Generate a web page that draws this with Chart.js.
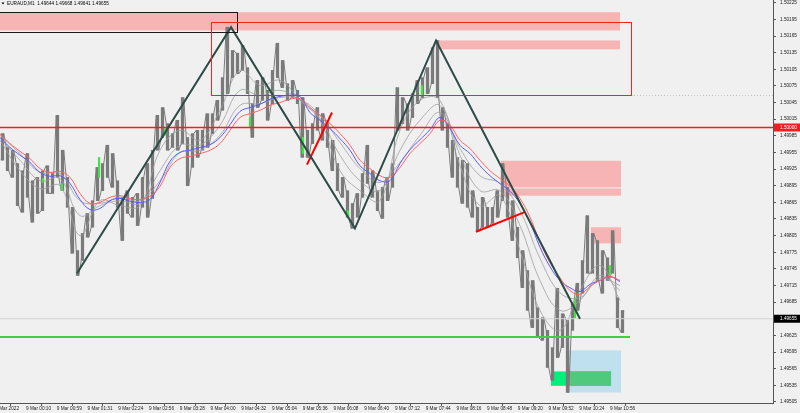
<!DOCTYPE html>
<html><head><meta charset="utf-8">
<script src="https://cdn.jsdelivr.net/npm/chart.js@4.4.0/dist/chart.umd.min.js"></script>
<style>html,body{margin:0;padding:0;background:#f0f0f0;overflow:hidden}#wrap{width:800px;height:413px;position:relative}</style>
</head><body><div id="wrap"><canvas id="c" width="800" height="413"></canvas></div>
<script>
// ---------- DATA ----------
const symbolTitle = 'EURAUD,M1  1.49644 1.49668 1.49641 1.49655';
const timeLabels = ['9 Mar 2022','9 Mar 00:10','9 Mar 00:59','9 Mar 01:31','9 Mar 02:24','9 Mar 02:56','9 Mar 03:28','9 Mar 04:00','9 Mar 04:32','9 Mar 05:04','9 Mar 05:36','9 Mar 06:08','9 Mar 06:40','9 Mar 07:12','9 Mar 07:44','9 Mar 08:16','9 Mar 08:48','9 Mar 09:20','9 Mar 09:52','9 Mar 10:24','9 Mar 10:56'];
const timeLabelBars = [0,32,64,96,128,160,192,224,256,288,320,352,384,416,448,480,512,544,576,608,640];
const priceTicks = [1.49505,1.49535,1.49565,1.49595,1.49625,1.49655,1.49685,1.49715,1.49745,1.49775,1.49805,1.49835,1.49865,1.49895,1.49925,1.49955,1.49985,1.50015,1.50045,1.50075,1.50105,1.50135,1.50165,1.50195,1.50225];

// price range per 5-bar slot (high / low)
const candleHigh = [1.49989,1.49964,1.49959,1.49935,1.49922,1.49953,1.49904,1.49910,1.49922,1.49931,
 1.49917,1.50022,1.49959,1.49910,1.49856,1.49778,1.49809,1.49845,1.49868,1.49928,
 1.49935,1.49968,1.49953,1.49904,1.49874,1.49886,1.49874,1.49881,1.49910,1.49935,
 1.49959,1.50022,1.50036,1.50007,1.49989,1.50013,1.50054,1.49982,1.49989,1.49995,
 1.49995,1.50025,1.50025,1.50049,1.50090,1.50181,1.50139,1.50134,1.50148,1.50108,
 1.50043,1.50085,1.50090,1.50067,1.50103,1.50152,1.50121,1.50079,1.50085,1.50067,
 1.50054,1.49995,1.50007,1.50036,1.50025,1.50007,1.49977,1.49935,1.49910,1.49886,
 1.49863,1.49881,1.49917,1.49968,1.49922,1.49886,1.49892,1.49910,1.49935,1.50072,
 1.50054,1.50043,1.50061,1.50085,1.50090,1.50108,1.50144,1.50157,1.50036,1.50007,
 1.49977,1.49946,1.49941,1.49935,1.49886,1.49856,1.49874,1.49856,1.49856,1.49886,
 1.49935,1.49892,1.49868,1.49820,1.49778,1.49742,1.49724,1.49675,1.49657,1.49634,
 1.49603,1.49710,1.49664,1.49652,1.49682,1.49719,1.49760,1.49841,1.49809,1.49796,
 1.49778,1.49765,1.49814,1.49693,1.49670];
const candleLow = [1.49941,1.49922,1.49910,1.49859,1.49847,1.49874,1.49829,1.49845,1.49850,1.49881,
 1.49881,1.49910,1.49886,1.49856,1.49773,1.49733,1.49760,1.49802,1.49820,1.49868,
 1.49886,1.49910,1.49892,1.49856,1.49796,1.49845,1.49838,1.49823,1.49856,1.49838,
 1.49872,1.49959,1.49982,1.49959,1.49964,1.49959,1.49971,1.49895,1.49928,1.49946,
 1.49959,1.49964,1.49989,1.50013,1.50031,1.50061,1.50090,1.50097,1.50103,1.50061,
 1.49982,1.50036,1.50049,1.50013,1.50043,1.50090,1.50072,1.50049,1.50054,1.50043,
 1.49946,1.49946,1.49971,1.49995,1.49977,1.49964,1.49922,1.49886,1.49874,1.49838,
 1.49818,1.49838,1.49874,1.49899,1.49874,1.49850,1.49836,1.49868,1.49892,1.49995,
 1.50007,1.49995,1.50018,1.50043,1.50054,1.50061,1.50079,1.50054,1.49995,1.49964,
 1.49910,1.49892,1.49863,1.49856,1.49838,1.49812,1.49820,1.49820,1.49827,1.49838,
 1.49868,1.49838,1.49796,1.49765,1.49711,1.49670,1.49639,1.49621,1.49616,1.49567,
 1.49544,1.49585,1.49603,1.49522,1.49634,1.49670,1.49701,1.49737,1.49737,1.49724,
 1.49701,1.49724,1.49737,1.49639,1.49630];

// moving averages (every 2 slots)
const maRed = [1.49989,1.49971,1.49957,1.49944,1.49926,1.49919,1.49921,1.49910,1.49881,1.49863,
 1.49865,1.49874,1.49877,1.49872,1.49870,1.49876,1.49894,1.49928,1.49944,1.49948,
 1.49953,1.49959,1.49971,1.49995,1.50018,1.50025,1.50031,1.50040,1.50045,1.50051,
 1.50052,1.50036,1.50022,1.50007,1.49989,1.49968,1.49941,1.49926,1.49913,1.49910,
 1.49928,1.49953,1.49971,1.49989,1.50013,1.50004,1.49977,1.49962,1.49941,1.49922,
 1.49908,1.49894,1.49872,1.49838,1.49793,1.49756,1.49729,1.49706,1.49699,1.49713,
 1.49724,1.49731,1.49724];
const maBlue = [1.49982,1.49964,1.49950,1.49937,1.49919,1.49912,1.49913,1.49899,1.49870,1.49852,
 1.49854,1.49868,1.49872,1.49867,1.49865,1.49870,1.49901,1.49939,1.49955,1.49959,
 1.49964,1.49969,1.49982,1.50005,1.50029,1.50036,1.50042,1.50051,1.50056,1.50058,
 1.50056,1.50027,1.50013,1.49998,1.49980,1.49959,1.49931,1.49917,1.49904,1.49904,
 1.49935,1.49960,1.49978,1.49996,1.50018,1.49998,1.49968,1.49953,1.49931,1.49913,
 1.49899,1.49885,1.49863,1.49829,1.49784,1.49749,1.49724,1.49711,1.49704,1.49717,
 1.49724,1.49731,1.49722];
// gray ribbon averages (every 4 slots)
const ribbonFast = [1.49977,1.49922,1.49890,1.49895,1.49805,1.49868,1.49859,1.49859,1.49959,1.49995,1.49977,1.50031,1.50103,1.50076,1.50085,1.50049,1.50013,1.49922,1.49886,1.49868,1.49995,1.50049,1.50049,1.49931,1.49859,1.49877,1.49778,1.49670,1.49634,1.49706,1.49751,1.49688];
const ribbonMid = [1.49982,1.49941,1.49904,1.49908,1.49841,1.49859,1.49868,1.49863,1.49922,1.49968,1.49968,1.50004,1.50067,1.50058,1.50067,1.50049,1.50016,1.49950,1.49904,1.49886,1.49959,1.50013,1.50040,1.49950,1.49886,1.49886,1.49823,1.49724,1.49670,1.49688,1.49733,1.49706];
const ribbonSlow = [1.49986,1.49953,1.49919,1.49917,1.49868,1.49863,1.49874,1.49868,1.49904,1.49955,1.49959,1.49986,1.50040,1.50043,1.50054,1.50051,1.50022,1.49973,1.49926,1.49901,1.49937,1.49986,1.50027,1.49962,1.49913,1.49899,1.49850,1.49764,1.49702,1.49693,1.49728,1.49715];

// zigzag
const zigzagBars = [85.1, 245.4, 374.4, 458.8, 608.7];
const zigzagPrices = [1.49737, 1.50181, 1.49818, 1.50157, 1.49655];
// red trend segments
const segBarsA = [324.5, 350.5], segPricesA = [1.49933, 1.50027];
const segBarsB = [500.4, 550.4], segPricesB = [1.49812, 1.49847];
// green signal marks
const signalBars = [49.7, 69.4, 108, 176.7, 265.1, 320.3, 367.2, 444.2, 603.5, 639.9];
const signalHigh = [1.49908,1.49899,1.49946,1.49998,1.50018,1.49982,1.49850,1.50076,1.49693,1.49751];
const signalLow  = [1.49901,1.49886,1.49910,1.49986,1.50000,1.49953,1.49838,1.50058,1.49657,1.49729];

// horizontal levels
const levelRed = 1.50000, levelGreen = 1.49622, levelGreenEnd = 660.7, currentPrice = 1.49655;

// zones (filled rectangles)
const zoneFrom   = [0, 459.8, 526.4, 526.4, 620.1, 594.1, 578.5];
const zoneTo     = [650.3, 650.3, 651.4, 651.4, 651.4, 651.4, 641.0];
const zoneTop    = [1.50208, 1.50157, 1.49940, 1.49890, 1.49820, 1.49598, 1.49560];
const zoneBottom = [1.50175, 1.50141, 1.49892, 1.49877, 1.49791, 1.49522, 1.49534];
const zoneColors = ['#f6b4b4','#f6b4b4','#f6b4b4','#f6b4b4','#f6b4b4','#bfe0ee','#00f07c'];
const overlapColor = '#50c97c';
// outlined rectangles
const boxFrom = [0, 224.5], boxTo = [251.6, 661.8];
const boxTop = [1.50208, 1.50190], boxBottom = [1.50173, 1.50058];
const boxColors = ['#1a1a1a', '#ff2020'];

// ---------- CHART ----------
const X_MIN = 4.9, X_MAX = 809.6, Y_MIN = 1.49503, Y_MAX = 1.50230;
const slot = 5.205, firstSlot = 7.5;
const series = (arr, start, step) => arr.map((v, i) => ({x: start + step * i, y: v}));
const FONT = '"Liberation Sans", Arial, sans-serif';

// jagged price path through each slot's extremes
const pricePath = [];
candleHigh.forEach((h, i) => {
  const c = firstSlot + slot * i, up = i % 2 === 0;
  pricePath.push({x: c - 1.3, y: up ? candleLow[i] : h});
  pricePath.push({x: c + 1.3, y: up ? h : candleLow[i]});
});

const lineDs = (data, color, width, order, extra) => Object.assign({
  type: 'line', data, borderColor: color, borderWidth: width, pointRadius: 0,
  fill: false, order, tension: 0
}, extra || {});

const datasets = [
  {type: 'bar', order: 10, grouped: false, barThickness: 2.6, backgroundColor: '#7a7a7a',
   data: candleHigh.map((h, i) => ({x: firstSlot + slot * i, y: [candleLow[i], h]}))},
  lineDs(pricePath, '#7a7a7a', 1, 9),
  {type: 'bar', order: 8, grouped: false, barThickness: 1.5, backgroundColor: '#3ee63e',
   data: signalBars.map((b, i) => ({x: b, y: [signalLow[i], signalHigh[i]]}))},
  lineDs(series(ribbonSlow, X_MIN, 4 * slot), '#a0a0a0', 0.8, 7, {tension: 0.4}),
  lineDs(series(ribbonMid, X_MIN, 4 * slot), '#a0a0a0', 0.8, 7, {tension: 0.4}),
  lineDs(series(ribbonFast, X_MIN, 4 * slot), '#a0a0a0', 0.8, 7, {tension: 0.4}),
  lineDs(series(maBlue, X_MIN, 2 * slot), '#5a5aff', 1, 6, {tension: 0.4}),
  lineDs(series(maRed, X_MIN, 2 * slot), '#ff6060', 1, 5, {tension: 0.4}),
  lineDs([{x: X_MIN, y: currentPrice}, {x: X_MAX, y: currentPrice}], '#d2d2d2', 1, 4),
  lineDs([{x: X_MIN, y: levelRed}, {x: X_MAX, y: levelRed}], '#ff1a1a', 1.4, 3),
  lineDs([{x: X_MIN, y: levelGreen}, {x: levelGreenEnd, y: levelGreen}], '#3dd13d', 2, 3),
  lineDs(segBarsA.map((b, i) => ({x: b, y: segPricesA[i]})), '#ff0000', 2, 2),
  lineDs(segBarsB.map((b, i) => ({x: b, y: segPricesB[i]})), '#ff0000', 2, 2),
  lineDs(zigzagBars.map((b, i) => ({x: b, y: zigzagPrices[i]})), '#2c4b47', 2, 1)
];

const zonesPlugin = {
  id: 'zones',
  beforeDatasetsDraw(chart) {
    const {ctx, chartArea: a, scales: {x, y}} = chart;
    ctx.save();
    ctx.beginPath(); ctx.rect(a.left, a.top, a.right - a.left, a.bottom - a.top); ctx.clip();
    const rects = zoneFrom.map((f, i) => {
      const x1 = x.getPixelForValue(f), x2 = x.getPixelForValue(zoneTo[i]);
      const y1 = y.getPixelForValue(zoneTop[i]), y2 = y.getPixelForValue(zoneBottom[i]);
      return [x1, y1, x2, y2];
    });
    rects.forEach((r, i) => {
      ctx.fillStyle = zoneColors[i];
      ctx.fillRect(r[0], r[1], r[2] - r[0], r[3] - r[1]);
      // where a green zone overlaps the blue zone, use the blended colour
      if (zoneColors[i] === '#00f07c') {
        rects.forEach((q, j) => {
          if (zoneColors[j] !== '#bfe0ee') return;
          const ix1 = Math.max(r[0], q[0]), ix2 = Math.min(r[2], q[2]);
          const iy1 = Math.max(r[1], q[1]), iy2 = Math.min(r[3], q[3]);
          if (ix2 > ix1 && iy2 > iy1) { ctx.fillStyle = overlapColor; ctx.fillRect(ix1, iy1, ix2 - ix1, iy2 - iy1); }
        });
      }
    });
    ctx.strokeStyle = '#c4c4c4'; ctx.lineWidth = 1; ctx.setLineDash([1, 2]);
    const yy = Math.round(y.getPixelForValue(boxBottom[1])) + 0.5;
    ctx.beginPath(); ctx.moveTo(x.getPixelForValue(boxTo[1]), yy); ctx.lineTo(a.right, yy); ctx.stroke();
    ctx.restore();
  },
  afterDatasetsDraw(chart) {
    const {ctx, chartArea: a, scales: {x, y}} = chart;
    ctx.save();
    ctx.beginPath(); ctx.rect(a.left, a.top, a.right - a.left, a.bottom - a.top); ctx.clip();
    boxFrom.forEach((f, i) => {
      const x1 = Math.round(x.getPixelForValue(f)) + 0.5, x2 = Math.round(x.getPixelForValue(boxTo[i])) + 0.5;
      const y1 = Math.round(y.getPixelForValue(boxTop[i])) + 0.5, y2 = Math.round(y.getPixelForValue(boxBottom[i])) + 0.5;
      ctx.strokeStyle = boxColors[i]; ctx.lineWidth = 1;
      ctx.strokeRect(x1, y1, x2 - x1, y2 - y1);
    });
    ctx.restore();
  },
  afterDraw(chart) {
    const {ctx, chartArea: a, scales: {y}} = chart;
    ctx.save();
    ctx.font = '4.7px ' + FONT;
    ctx.textBaseline = 'middle';
    ctx.fillStyle = '#000';
    ctx.beginPath(); ctx.moveTo(1.5, 2.5); ctx.lineTo(4.5, 2.5); ctx.lineTo(3, 4.5); ctx.closePath(); ctx.fill();
    ctx.fillText(symbolTitle, 7, 4);
    const tags = [[levelRed, '#f01e1e', '#ffffff'], [currentPrice, '#000000', '#ffffff']];
    tags.forEach(([v, bg, fg]) => {
      const py = y.getPixelForValue(v);
      ctx.fillStyle = bg;
      ctx.fillRect(a.right + 1, py - 4, 800 - a.right - 1, 8);
      ctx.fillStyle = fg;
      ctx.fillText(v.toFixed(5), a.right + 7, py + 0.3);
    });
    ctx.restore();
  }
};

new Chart(document.getElementById('c'), {
  type: 'line',
  data: {datasets},
  plugins: [zonesPlugin],
  options: {
    responsive: false, animation: false, devicePixelRatio: 1,
    layout: {padding: 0},
    plugins: {legend: {display: false}, tooltip: {enabled: false}},
    scales: {
      x: {
        type: 'linear', min: X_MIN, max: X_MAX, offset: false,
        border: {display: true, color: '#555555', width: 1},
        grid: {drawOnChartArea: false, drawTicks: true, tickLength: 3, color: '#555555'},
        ticks: {font: {family: FONT, size: 4.7}, color: '#1a1a1a', align: 'start', padding: 0,
                maxRotation: 0, autoSkip: false, callback: (v, i) => timeLabels[i]},
        afterBuildTicks: s => { s.ticks = timeLabelBars.map(v => ({value: v})); },
        afterFit: s => { s.height = 10; s.paddingLeft = 0; s.paddingRight = 0; }
      },
      y: {
        type: 'linear', position: 'right', min: Y_MIN, max: Y_MAX,
        border: {display: true, color: '#555555', width: 1},
        grid: {drawOnChartArea: false, drawTicks: true, tickLength: 3, color: '#555555'},
        ticks: {font: {family: FONT, size: 4.7}, color: '#1a1a1a', padding: 4,
                callback: v => Number(v).toFixed(5)},
        afterBuildTicks: s => { s.ticks = priceTicks.map(v => ({value: v})); },
        afterFit: s => { s.width = 27; s.paddingTop = 0; s.paddingBottom = 0; }
      }
    }
  }
});
</script></body></html>
